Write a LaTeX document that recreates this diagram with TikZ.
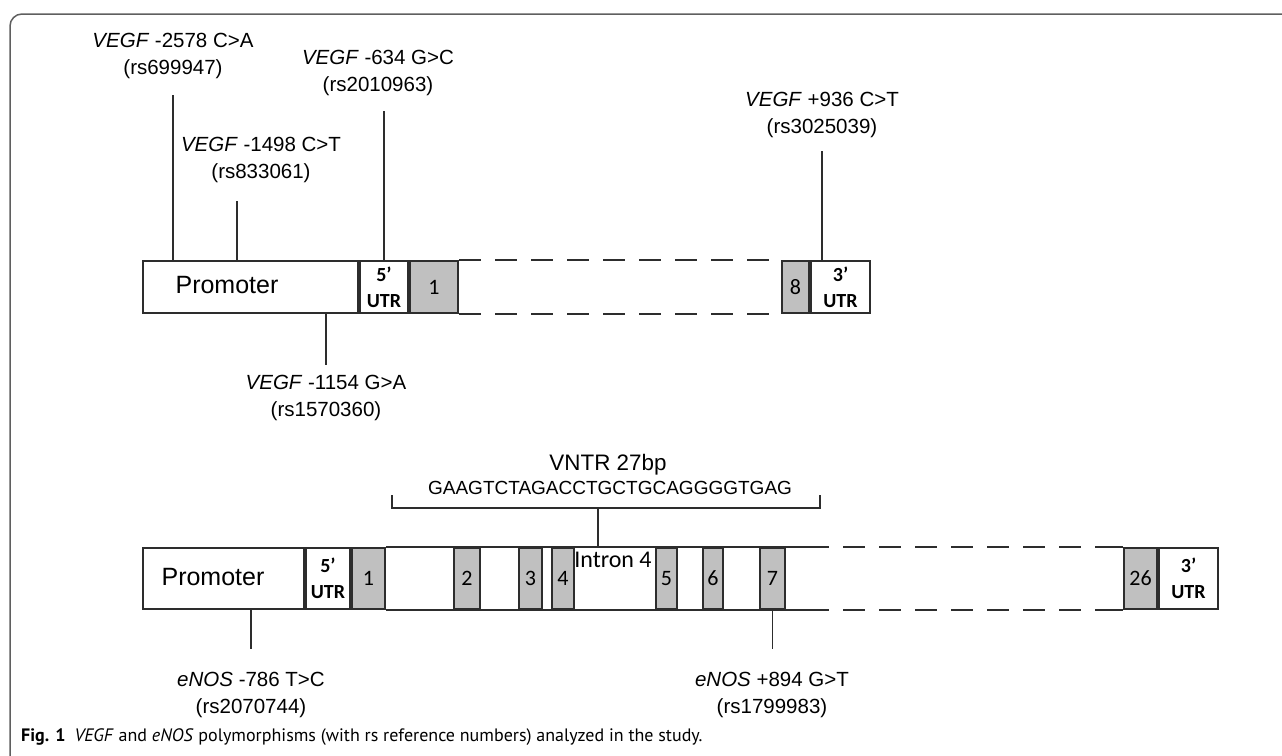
\documentclass[tikz,border=0pt]{standalone}
\usepackage{fontspec}
\setmainfont{Liberation Sans}
\newfontfamily\calib{Carlito}
\newfontfamily\capfont{PT Sans}
\usepackage{tikz}
\usetikzlibrary{positioning, calc}
\definecolor{ink}{RGB}{45,45,45}
\definecolor{exgray}{RGB}{192,192,192}
\definecolor{framegray}{RGB}{95,95,95}

\begin{document}
\begin{tikzpicture}[
   x=1pt, y=-1pt,
   seg/.style={draw=ink, line width=2pt, anchor=north west, inner sep=0pt,
               minimum width=#1, font=\calib\fontsize{22}{24}\selectfont},
   vseg/.style={seg=#1, minimum height=52pt},
   eseg/.style={seg=#1, minimum height=61pt},
   exon/.style={fill=exgray},
   utr/.style={align=center, font=\calib\bfseries\fontsize{20}{26}\selectfont},
   body/.style={draw=ink, line width=2pt},
   gap/.style={body, dash pattern=on 22pt off 14pt},
   prom/.style={font=\fontsize{25}{30}\selectfont},
   snp/.style={align=center, inner sep=2pt, font=\fontsize{20.5}{27}\selectfont},
   tick/.style={draw=ink, line width=1.6pt},
   capt/.style={anchor=west, inner sep=0pt, font=\capfont\fontsize{18}{20}\selectfont},
]
\useasboundingbox (0,0) rectangle (1282,755);
\draw[framegray, line width=1.5pt, rounded corners=12pt] (10,14) rectangle (1300,790);

% ---- VEGF gene ----
\node[vseg=215] (vprom) at (142,260) {};
\node[prom] (vpromt) at (227,285) {Promoter};
\node[vseg=48, utr] (vutr5) at (vprom.north east) {5’\\UTR};
\node[vseg=48, exon] (vex1) at (vutr5.north east) {1};
\node[vseg=27, exon] (vex8) at (781,260) {8};
\node[vseg=59, utr] (vutr3) at (vex8.north east) {3’\\UTR};
\draw[gap] (vex1.north east) -- (vex8.north west);
\draw[gap] (vex1.south east) -- (vex8.south west);

% ---- VEGF polymorphisms ----
\node[snp] (s2578) at (173,56) {\textit{VEGF} -2578 C>A\\(rs699947)};
\node[snp] (s634) at (378,73) {\textit{VEGF} -634 G>C\\(rs2010963)};
\node[snp] (s1498) at (261,160) {\textit{VEGF} -1498 C>T\\(rs833061)};
\node[snp] (s936) at (822,115) {\textit{VEGF} +936 C>T\\(rs3025039)};
\node[snp] (s1154) at (326,398) {\textit{VEGF} -1154 G>A\\(rs1570360)};
\coordinate (c1498) at ([xshift=-24pt]s1498.south);

\draw[tick, shorten >=14pt] (s2578.south |- vprom.north) -- (s2578.south);
\draw[tick, shorten >=13pt] (vutr5.north) -- (vutr5.north |- s634.south);
\draw[tick, shorten >=16pt] (c1498 |- vprom.north) -- (c1498);
\draw[tick, shorten >=11pt] (s936.south |- vutr3.north) -- (s936.south);
\draw[tick, shorten >=8pt] (s1154.north |- vprom.south) -- (s1154.north);

% ---- eNOS gene ----
\node[eseg=161] (eprom) at (142,547) {};
\node[prom] (epromt) at (213,577) {Promoter};
\node[eseg=44, utr] (eutr5) at (eprom.north east) {5’\\UTR};
\node[eseg=33, exon] (eex1) at (eutr5.north east) {1};
\node[eseg=26, exon] (eex2) at (453,547) {2};
\node[eseg=23, exon] (eex3) at (518,547) {3};
\node[eseg=22, exon] (eex4) at (551,547) {4};
\node[eseg=21, exon] (eex5) at (655,547) {5};
\node[eseg=20, exon] (eex6) at (702,547) {6};
\node[eseg=25, exon] (eex7) at (759,547) {7};
\draw[body] (eex1.north east) -- ([xshift=21pt]eex7.north east);
\draw[body] (eex1.south east) -- ([xshift=21pt]eex7.south east);
\node[font=\calib\fontsize{24}{28}\selectfont, inner sep=0pt] (intr4) at (613,560) {Intron 4};
\node[eseg=33, exon] (eex26) at (1123,547) {26};
\node[eseg=59, utr] (eutr3) at (eex26.north east) {3’\\UTR};
\draw[gap] ([xshift=21pt]eex7.north east) -- ([xshift=-8pt]eex26.north west);
\draw[gap] ([xshift=21pt]eex7.south east) -- ([xshift=-8pt]eex26.south west);
\draw[body] ([xshift=-8pt]eex26.north west) -- (eex26.north west);
\draw[body] ([xshift=-8pt]eex26.south west) -- (eex26.south west);

% ---- VNTR ----
\node[inner sep=0pt, font=\fontsize{22.4}{26}\selectfont] (vntr) at (608,465) {VNTR 27bp};
\node[inner sep=0pt, font=\fontsize{19}{22}\selectfont] (vseq) at (610,488) {GAAGTCTAGACCTGCTGCAGGGGTGAG};
\coordinate (brl) at (392,508);
\coordinate (brr) at (820,508);
\coordinate (brmid) at (598,508);
\draw[tick] ($(brl)+(0,-13)$) -- (brl) -- (brr) -- ($(brr)+(0,-13)$);
\draw[tick] (brmid) -- (brmid |- eprom.north);

% ---- eNOS polymorphisms ----
\node[snp] (s786) at (251,695) {\textit{eNOS} -786 T>C\\(rs2070744)};
\node[snp] (s894) at (772,695) {\textit{eNOS} +894 G>T\\(rs1799983)};
\draw[tick, shorten >=21pt] (s786.north |- eprom.south) -- (s786.north);
\draw[tick, shorten >=21pt] (eex7.south) -- (eex7.south |- s894.north);

% ---- caption ----
\node[capt] (fig) at (21,737) {\textbf{Fig. 1}\hspace{9pt}\textit{VEGF} and \textit{eNOS} polymorphisms (with rs reference numbers) analyzed in the study.};
\end{tikzpicture}
\end{document}
